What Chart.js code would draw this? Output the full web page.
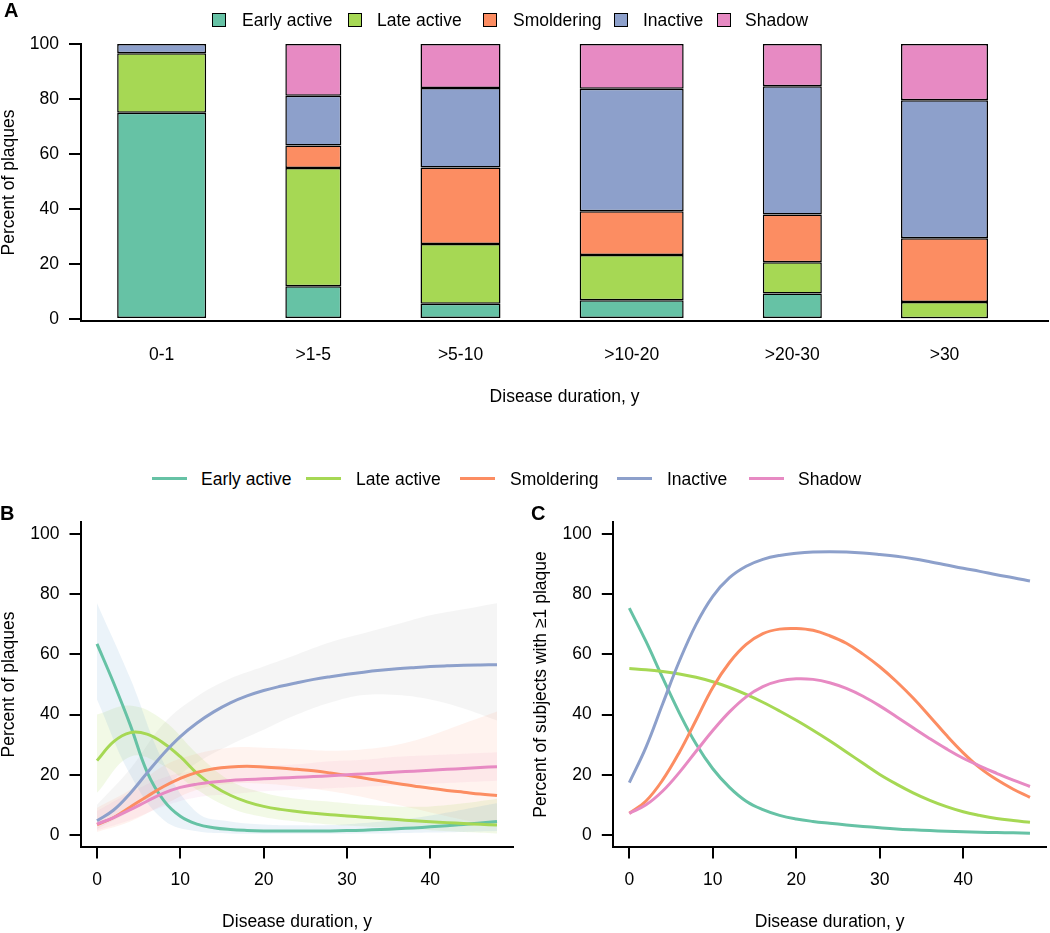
<!DOCTYPE html>
<html>
<head>
<meta charset="utf-8">
<title>Plaque types by disease duration</title>
<script src="https://cdn.jsdelivr.net/npm/chart.js@4.4.1/dist/chart.umd.min.js"></script>
<style>
  html, body { margin: 0; padding: 0; background: #fff; }
  body { position: relative; width: 1050px; height: 933px; overflow: hidden;
         font-family: "Liberation Sans", Arial, Helvetica, sans-serif; color: #000; }
  canvas { position: absolute; }
  .panel-tag { position: absolute; font-weight: bold; font-size: 20px; line-height: 20px; }
  .key { position: absolute; font-size: 17.5px; line-height: 20px; white-space: nowrap; }
  .swatch { position: absolute; box-sizing: border-box; width: 14px; height: 14px; border: 1.5px solid #000; }
  .stroke { position: absolute; width: 35px; height: 3px; }
</style>
</head>
<body>
<canvas id="chartA" width="1050" height="406" style="left:0;top:0"></canvas>
<canvas id="chartB" width="525" height="431" style="left:0;top:500px"></canvas>
<canvas id="chartC" width="525" height="431" style="left:525px;top:500px"></canvas>
<div class="panel-tag" style="left:4px;top:0">A</div>
<div class="panel-tag" style="left:0;top:503px">B</div>
<div class="panel-tag" style="left:531px;top:503px">C</div>
<div id="keys"></div>
<script>
const typeNames = ['Early active', 'Late active', 'Smoldering', 'Inactive', 'Shadow'];

// Panel A: share of plaques per duration group (%)
const durationGroups = ['0-1', '>1-5', '>5-10', '>10-20', '>20-30', '>30'];
const barWidths = [89, 56, 80, 104, 59, 87];
const earlyShare = [75.0, 11.9, 5.5, 6.8, 9.3, 0.3];
const lateShare = [21.6, 43.0, 21.8, 16.5, 11.3, 5.9];
const smolderingShare = [0, 8.2, 27.8, 15.9, 17.4, 23.2];
const inactiveShare = [3.4, 18.1, 28.9, 44.5, 46.6, 50.1];
const shadowShare = [0, 18.8, 16.0, 16.3, 15.4, 20.5];

// Panels B and C: fitted curves against disease duration (years)
const durations = [0, 2, 4, 6, 8, 10, 12, 14, 16, 18, 20, 22, 24, 26, 28, 30, 32, 34, 36, 38, 40, 42, 44, 46, 48];
const plaqueEarly = [63.5, 50.5, 36.5, 21, 11.5, 6.2, 3.6, 2.4, 1.8, 1.5, 1.35, 1.3, 1.3, 1.3, 1.35, 1.45, 1.6, 1.8, 2.05, 2.35, 2.7, 3.1, 3.5, 4, 4.5];
const plaqueLate = [24.7, 31, 34, 33.5, 30.5, 26, 20.5, 16.3, 13.2, 11.0, 9.5, 8.5, 7.8, 7.2, 6.7, 6.3, 5.9, 5.5, 5.1, 4.75, 4.4, 4.1, 3.8, 3.55, 3.3];
const plaqueSmoldering = [3.4, 5.8, 9.3, 12.8, 16.1, 18.8, 20.8, 22, 22.6, 22.8, 22.6, 22.25, 21.8, 21.3, 20.6, 19.8, 18.9, 18.0, 17.1, 16.3, 15.5, 14.8, 14.2, 13.6, 13.1];
const plaqueInactive = [4.7, 8.3, 13.9, 20.6, 27.1, 32.7, 37.2, 40.9, 43.9, 46.2, 48.0, 49.4, 50.6, 51.7, 52.6, 53.4, 54.1, 54.7, 55.2, 55.6, 55.95, 56.2, 56.4, 56.5, 56.55];
const plaqueShadow = [3.6, 5.8, 8.4, 11.2, 13.9, 15.8, 16.9, 17.6, 18.1, 18.4, 18.65, 18.9, 19.15, 19.4, 19.7, 20, 20.3, 20.6, 20.9, 21.2, 21.5, 21.8, 22.1, 22.4, 22.7];

const bandDurations = [0, 4, 8, 12, 16, 20, 24, 28, 32, 36, 40, 44, 48];
const plaqueEarlyLo = [45, 20, 5, 1.2, 0.5, 0.4, 0.4, 0.4, 0.5, 0.6, 0.8, 1, 1.3];
const plaqueEarlyHi = [77, 52, 24, 7.5, 4.5, 3.5, 3.2, 3.3, 4, 5, 6.5, 8.5, 10.5];
const plaqueLateLo = [14, 26, 23, 15, 9, 6, 4.5, 3.5, 2.8, 2.2, 1.6, 1, 0.5];
const plaqueLateHi = [40, 43, 38, 27, 18, 14, 12, 11, 10, 9.5, 9.5, 10.5, 12];
const plaqueSmolderingLo = [1, 4.5, 10, 15, 17, 17, 16, 14.5, 12.5, 10, 7.5, 5, 3];
const plaqueSmolderingHi = [9, 15, 23, 27, 29, 29, 28.5, 28, 28.5, 30, 33, 37, 41];
const plaqueInactiveLo = [2, 8, 16, 24, 30, 35, 40, 44, 46.5, 46.5, 45, 42, 38];
const plaqueInactiveHi = [10, 22, 37, 46, 52, 56, 60, 64, 67, 70, 73, 75, 77];
const plaqueShadowLo = [1.5, 5, 9.5, 12.5, 13.5, 14.5, 15, 15.5, 16, 16.5, 17, 17.5, 18];
const plaqueShadowHi = [8, 14, 19, 21.5, 22.5, 23, 23.5, 24.5, 25, 26, 26.5, 27, 27.5];

const subjectsEarly = [75.4, 64.3, 52.2, 40.5, 30.2, 22.0, 15.8, 11.2, 8.4, 6.5, 5.3, 4.5, 3.9, 3.35, 2.85, 2.4, 2.0, 1.7, 1.45, 1.25, 1.05, 0.9, 0.8, 0.7, 0.6];
const subjectsLate = [55.3, 54.9, 54.3, 53.5, 52.4, 50.9, 49.0, 46.7, 44.1, 41.2, 38.1, 34.8, 31.3, 27.6, 23.8, 20.1, 16.9, 14.0, 11.5, 9.4, 7.7, 6.5, 5.5, 4.8, 4.2];
const subjectsSmoldering = [7.2, 11.3, 18.3, 27.5, 38.2, 49, 57.3, 63.3, 66.9, 68.4, 68.6, 68, 66.2, 63.7, 60.1, 55.9, 51, 45.5, 39.4, 33.1, 27.3, 22.3, 18.4, 15.2, 12.5];
const subjectsInactive = [17.4, 29.2, 43.6, 57.8, 70.0, 79.3, 85.5, 89.3, 91.6, 92.9, 93.6, 94.0, 94.1, 94.0, 93.7, 93.2, 92.6, 91.8, 90.8, 89.7, 88.6, 87.6, 86.5, 85.5, 84.4];
const subjectsShadow = [7.2, 10.0, 14.6, 20.8, 27.8, 34.7, 40.9, 45.9, 49.3, 51.2, 51.9, 51.7, 50.6, 48.7, 46.1, 42.9, 39.3, 35.6, 32.0, 28.6, 25.5, 22.9, 20.5, 18.2, 16.1];

const percentTicks = [0, 20, 40, 60, 80, 100];
const durationTicks = [0, 10, 20, 30, 40];

// styling
const typeColors = ['#66C2A5', '#A6D854', '#FC8D62', '#8DA0CB', '#E78AC3'];
const bandColors = ['rgba(100,160,210,0.13)', 'rgba(166,216,84,0.15)', 'rgba(252,141,98,0.10)',
                    'rgba(128,128,128,0.08)', 'rgba(231,138,195,0.10)'];

Chart.defaults.font.family = '"Liberation Sans", Arial, Helvetica, sans-serif';
Chart.defaults.font.size = 17.5;
Chart.defaults.color = '#000';
Chart.defaults.animation = false;

const axisFont = { size: 17.5, lineHeight: 1 };
const fixWidth = w => scale => { scale.width = w; };
const fixHeight = h => scale => { scale.height = h; };
const useTicks = values => scale => { scale.ticks = values.map(v => ({ value: v })); };
const blackBorder = { display: true, color: '#000', width: 2 };
const tickMarks = len => ({ drawOnChartArea: false, drawTicks: true, tickLength: len, color: '#000', lineWidth: 2 });
const noPlugins = { legend: { display: false }, tooltip: { enabled: false } };

// ---- Panel A: stacked bars of varying width ----
const plaqueShares = [earlyShare, lateShare, smolderingShare, inactiveShare, shadowShare];
const meanWidth = barWidths.reduce((a, b) => a + b, 0) / barWidths.length;
const barCenters = [];
let edge = meanWidth; // gap between bars equals the mean bar width
barWidths.forEach(w => {
    barCenters.push(edge + w / 2);
    edge += w + meanWidth;
});
let minStep = Infinity;
for (let i = 1; i < barCenters.length; i++) {
    minStep = Math.min(minStep, barCenters[i] - barCenters[i - 1]);
}

const barDatasets = [];
durationGroups.forEach((group, i) => {
    typeNames.forEach((name, k) => {
        barDatasets.push({
            label: name,
            data: [{ x: barCenters[i], y: plaqueShares[k][i] }],
            backgroundColor: typeColors[k],
            borderColor: '#000',
            borderWidth: 1.5,
            borderSkipped: false,
            grouped: false,
            categoryPercentage: 1,
            barPercentage: barWidths[i] / minStep
        });
    });
});

new Chart(document.getElementById('chartA'), {
    type: 'bar',
    data: { datasets: barDatasets },
    options: {
        responsive: false,
        layout: { padding: { top: 44, right: 2, left: 0, bottom: 0 } },
        plugins: noPlugins,
        scales: {
            x: {
                type: 'linear', min: 43, max: 1010, offset: false,
                afterBuildTicks: useTicks(barCenters),
                afterFit: fixHeight(85),
                grid: { drawOnChartArea: false, drawTicks: false },
                border: blackBorder,
                ticks: { padding: 25, font: axisFont, autoSkip: false, maxRotation: 0,
                         callback: (v, i) => durationGroups[i] },
                title: { display: true, text: 'Disease duration, y', font: axisFont, padding: 0 }
            },
            y: {
                stacked: true, min: -0.73, max: 100,
                afterBuildTicks: useTicks(percentTicks),
                afterFit: fixWidth(81),
                grid: tickMarks(12),
                border: blackBorder,
                ticks: { padding: 10, font: axisFont },
                title: { display: true, text: 'Percent of plaques', font: axisFont, padding: 0 }
            }
        }
    }
});

// ---- Panels B and C: smoothed curves ----
function curve(xs, ys, color, width, order) {
    return {
        data: xs.map((x, i) => ({ x: x, y: ys[i] })),
        borderColor: color, borderWidth: width, pointRadius: 0,
        tension: 0.4, fill: false, order: order
    };
}

function lineScales(yWidth, yTitle, yTitlePad) {
    return {
        x: {
            type: 'linear', min: -1.92, max: 49.92,
            afterBuildTicks: useTicks(durationTicks),
            afterFit: fixHeight(84),
            grid: tickMarks(11.5),
            border: blackBorder,
            ticks: { padding: 13, font: axisFont, maxRotation: 0 },
            title: { display: true, text: 'Disease duration, y', font: axisFont, padding: 0 }
        },
        y: {
            min: -4, max: 104,
            afterBuildTicks: useTicks(percentTicks),
            afterFit: fixWidth(yWidth),
            grid: tickMarks(11.5),
            border: blackBorder,
            ticks: { padding: 10, font: axisFont },
            title: { display: true, text: yTitle, font: axisFont, padding: { top: yTitlePad, bottom: 0 } }
        }
    };
}

const plaqueCurves = [plaqueEarly, plaqueLate, plaqueSmoldering, plaqueInactive, plaqueShadow];
const plaqueLow = [plaqueEarlyLo, plaqueLateLo, plaqueSmolderingLo, plaqueInactiveLo, plaqueShadowLo];
const plaqueHigh = [plaqueEarlyHi, plaqueLateHi, plaqueSmolderingHi, plaqueInactiveHi, plaqueShadowHi];

const datasetsB = [];
typeNames.forEach((name, k) => {
    const lo = curve(bandDurations, plaqueLow[k], 'rgba(0,0,0,0)', 0, 10);
    const hi = curve(bandDurations, plaqueHigh[k], 'rgba(0,0,0,0)', 0, 10);
    hi.fill = '-1';
    hi.backgroundColor = bandColors[k];
    datasetsB.push(lo, hi);
});
typeNames.forEach((name, k) => {
    const line = curve(durations, plaqueCurves[k], typeColors[k], 3, 5 - k);
    line.label = name;
    datasetsB.push(line);
});

new Chart(document.getElementById('chartB'), {
    type: 'line',
    data: { datasets: datasetsB },
    options: {
        responsive: false,
        layout: { padding: { top: 22, right: 12, left: 0, bottom: 0 } },
        plugins: noPlugins,
        scales: lineScales(81, 'Percent of plaques', 0)
    }
});

const subjectCurves = [subjectsEarly, subjectsLate, subjectsSmoldering, subjectsInactive, subjectsShadow];
new Chart(document.getElementById('chartC'), {
    type: 'line',
    data: {
        datasets: typeNames.map((name, k) => {
            const line = curve(durations, subjectCurves[k], typeColors[k], 3, 5 - k);
            line.label = name;
            return line;
        })
    },
    options: {
        responsive: false,
        layout: { padding: { top: 22, right: 4, left: 0, bottom: 0 } },
        plugins: noPlugins,
        scales: lineScales(88.3, 'Percent of subjects with \u22651 plaque', 7)
    }
});

// ---- legends (HTML) ----
const keys = document.getElementById('keys');
const swatchLeft = [212, 348, 483, 614, 717];
const swatchText = [242, 377, 513, 643, 745];
const strokeLeft = [152, 306, 460, 617, 749];
const strokeText = [201, 356, 510, 667, 798];

function addEl(cls, style, text) {
    const el = document.createElement('div');
    el.className = cls;
    Object.assign(el.style, style);
    if (text) el.textContent = text;
    keys.appendChild(el);
}

typeNames.forEach((name, k) => {
    addEl('swatch', { left: swatchLeft[k] + 'px', top: '12.5px', background: typeColors[k] });
    addEl('key', { left: swatchText[k] + 'px', top: '10px' }, name);
    addEl('stroke', { left: strokeLeft[k] + 'px', top: '477px', background: typeColors[k] });
    addEl('key', { left: strokeText[k] + 'px', top: '468.5px' }, name);
});
</script>
</body>
</html>
